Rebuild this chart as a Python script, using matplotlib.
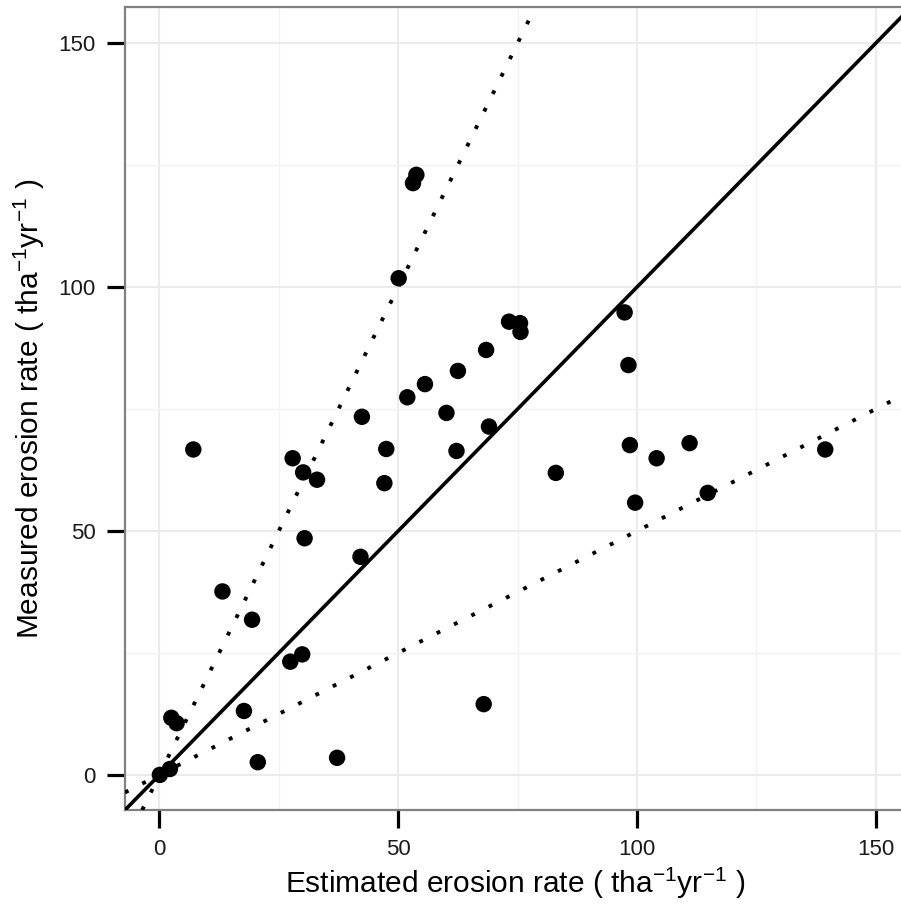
import matplotlib
matplotlib.use("Agg")
import matplotlib.pyplot as plt
from matplotlib.ticker import MultipleLocator

plt.rcParams['font.family'] = ['Liberation Sans', 'DejaVu Sans']
plt.rcParams['mathtext.fontset'] = 'custom'
plt.rcParams['mathtext.rm'] = 'Liberation Sans'
plt.rcParams['mathtext.it'] = 'Liberation Sans'
plt.rcParams['mathtext.default'] = 'regular'

# --- data ---
estimated = [0.1, 2.2, 2.5, 3.6, 7.1, 13.2, 17.7, 19.4, 20.6, 27.4, 27.9, 29.9,
             30.1, 30.4, 33.0, 37.2, 42.1, 42.4, 47.1, 47.5, 50.1, 51.9, 53.1,
             53.8, 55.6, 60.1, 62.2, 62.5, 67.9, 68.4, 69.0, 73.2, 75.5, 75.6,
             83.0, 97.4, 98.2, 98.5, 99.6, 104.1, 111.0, 114.8, 139.4]
measured = [0.0, 1.2, 11.7, 10.6, 66.7, 37.6, 13.1, 31.8, 2.6, 23.2, 64.9, 24.7,
            62.0, 48.5, 60.5, 3.5, 44.7, 73.4, 59.8, 66.8, 101.8, 77.4, 121.3,
            123.0, 80.1, 74.2, 66.4, 82.8, 14.5, 87.1, 71.4, 92.9, 92.6, 90.8,
            61.9, 94.8, 84.0, 67.6, 55.8, 64.9, 68.0, 57.8, 66.7]

# reference lines: 1:1 and factor-of-two bounds
slopes = [1.0, 2.0, 0.5]
styles = ['solid', 'dotted', 'dotted']

fig = plt.figure(figsize=(9.01, 9.10), dpi=100)
# right spine sits just outside the image, like the reference
ax = fig.add_axes([125 / 901, 100 / 910, 780 / 901, 803 / 910])

for s, st in zip(slopes, styles):
    if st == 'solid':
        ax.axline((0, 0), slope=s, color='black', lw=2.6, zorder=3)
    else:
        ax.axline((0, 0), slope=s, color='black', lw=2.8, zorder=3,
                  linestyle=(0, (1, 4.0)), dash_capstyle='butt')

ax.scatter(estimated, measured, s=140, color='black', edgecolors='none', zorder=4)

ax.set_xlim(-7.2, 156.1)
ax.set_ylim(-7.2, 157.4)
ax.xaxis.set_major_locator(MultipleLocator(50))
ax.yaxis.set_major_locator(MultipleLocator(50))
ax.xaxis.set_minor_locator(MultipleLocator(25))
ax.yaxis.set_minor_locator(MultipleLocator(25))
ax.grid(which='major', color='#ebebeb', lw=1.5, zorder=0)
ax.grid(which='minor', color='#f2f2f2', lw=1.0, zorder=0)
ax.set_axisbelow(True)

ax.tick_params(which='major', direction='out', length=13, width=2.3,
               color='black', labelsize=16, pad=8, labelcolor='#1a1a1a')
ax.tick_params(which='minor', length=0)

for sp in ax.spines.values():
    sp.set_color('#808080')
    sp.set_linewidth(1.6)

ax.set_xlabel(r'Estimated erosion rate ( tha$^{-1}$yr$^{-1}$ )', fontsize=21.5, labelpad=4)
ax.set_ylabel(r'Measured erosion rate ( tha$^{-1}$yr$^{-1}$ )', fontsize=21.5, labelpad=8)

fig.savefig('out.png', dpi=100)
